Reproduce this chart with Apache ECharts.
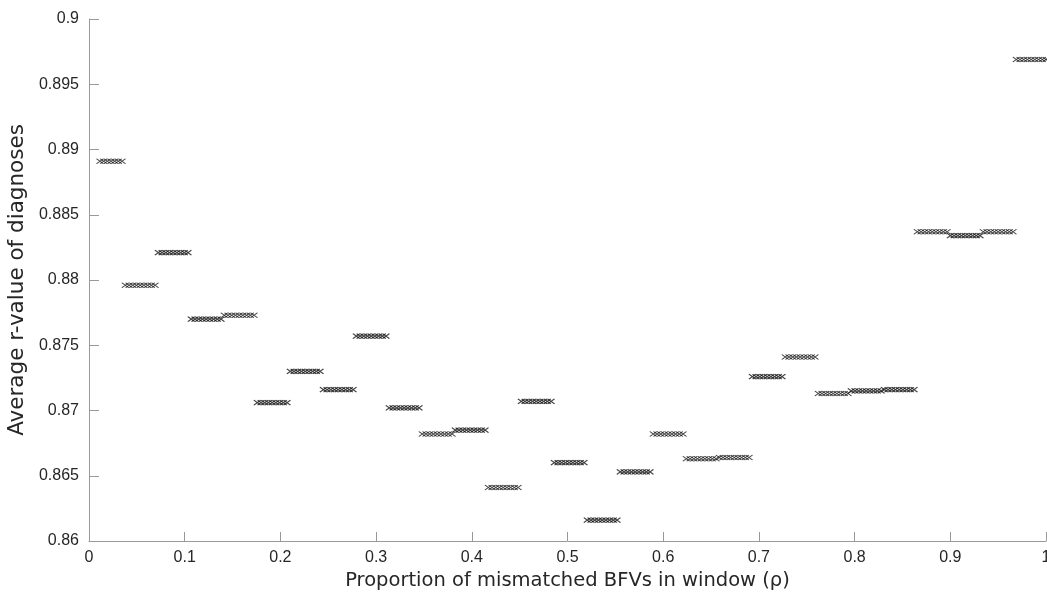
<!DOCTYPE html>
<html>
<head>
<meta charset="utf-8">
<script src="https://cdn.jsdelivr.net/npm/echarts@6/dist/echarts.min.js"></script>
<style>
  html, body { margin: 0; padding: 0; background: #fff; }
  #chart { width: 1047px; height: 592px; }
</style>
</head>
<body>
<div id="chart"></div>
<script>
// bin edges along rho (29 bins) and the average r-value read for each bin
const binEdges = [0, 0.0345, 0.069, 0.1034, 0.1379, 0.1724, 0.2069, 0.2414, 0.2759, 0.3103,
  0.3448, 0.3793, 0.4138, 0.4483, 0.4828, 0.5172, 0.5517, 0.5862, 0.6207, 0.6552,
  0.6897, 0.7241, 0.7586, 0.7931, 0.8276, 0.8621, 0.8966, 0.931, 0.9655, 1.0];
const avgR = [0.8891, 0.8796, 0.8821, 0.8770, 0.8773, 0.8706, 0.8730, 0.8716, 0.8757, 0.8702,
  0.8682, 0.8685, 0.8641, 0.8707, 0.8660, 0.8616, 0.8653, 0.8682, 0.8663, 0.8664,
  0.8726, 0.8741, 0.8713, 0.8715, 0.8716, 0.8837, 0.8834, 0.8837, 0.8969];
const firstRho = 0.0115;   // smallest rho sampled
const marksPerBin = 9;
const xTicks = ['0', '0.1', '0.2', '0.3', '0.4', '0.5', '0.6', '0.7', '0.8', '0.9', '1'];

const pts = [];
avgR.forEach((r, i) => {
  const lo = i === 0 ? firstRho : binEdges[i] + 0.0035;
  const hi = binEdges[i + 1];
  const n = i === 0 ? 7 : marksPerBin;
  for (let j = 0; j < n; j++) pts.push([lo + (hi - lo) * j / (n - 1), r]);
});

const labelFont = { color: '#262626', fontSize: 16, fontFamily: 'Liberation Sans, Arial, sans-serif' };
const axisGray = '#999';

const chart = echarts.init(document.getElementById('chart'), null, { renderer: 'canvas' });
chart.setOption({
  backgroundColor: '#fff',
  animation: false,
  grid: { left: 89, right: 1, top: 19, bottom: 51, containLabel: false, outerBoundsMode: 'none' },
  xAxis: {
    type: 'value', min: 0, max: 1, interval: 0.1,
    name: 'Proportion of mismatched BFVs in window (ρ)',
    nameLocation: 'middle', nameGap: 30,
    nameTextStyle: { color: '#262626', fontSize: 19.5, fontFamily: 'DejaVu Sans, sans-serif' },
    axisLine: { show: true, lineStyle: { color: axisGray } },
    axisTick: { show: true, inside: true, length: 9, lineStyle: { color: axisGray } },
    axisLabel: Object.assign({ margin: 9, formatter: (v) => xTicks[Math.round(v * 10)] }, labelFont),
    splitLine: { show: false }
  },
  yAxis: {
    type: 'value', min: 0.86, max: 0.9, interval: 0.005,
    name: 'Average r-value of diagnoses',
    nameLocation: 'middle', nameGap: 60,
    nameTextStyle: { color: '#262626', fontSize: 21.5, fontFamily: 'DejaVu Sans, sans-serif' },
    axisLine: { show: true, lineStyle: { color: axisGray } },
    axisTick: { show: true, inside: true, length: 10, lineStyle: { color: axisGray } },
    axisLabel: Object.assign({ margin: 10, formatter: (v) => String(+v.toFixed(3)) }, labelFont),
    splitLine: { show: false }
  },
  series: [{
    type: 'scatter',
    data: pts,
    symbol: 'path://M0,0L10,8M10,0L0,8',
    symbolSize: [7, 5],
    itemStyle: { color: 'none', borderColor: '#111', borderWidth: 1.1 },
    emphasis: { disabled: true },
    silent: true
  }]
});
</script>
</body>
</html>
